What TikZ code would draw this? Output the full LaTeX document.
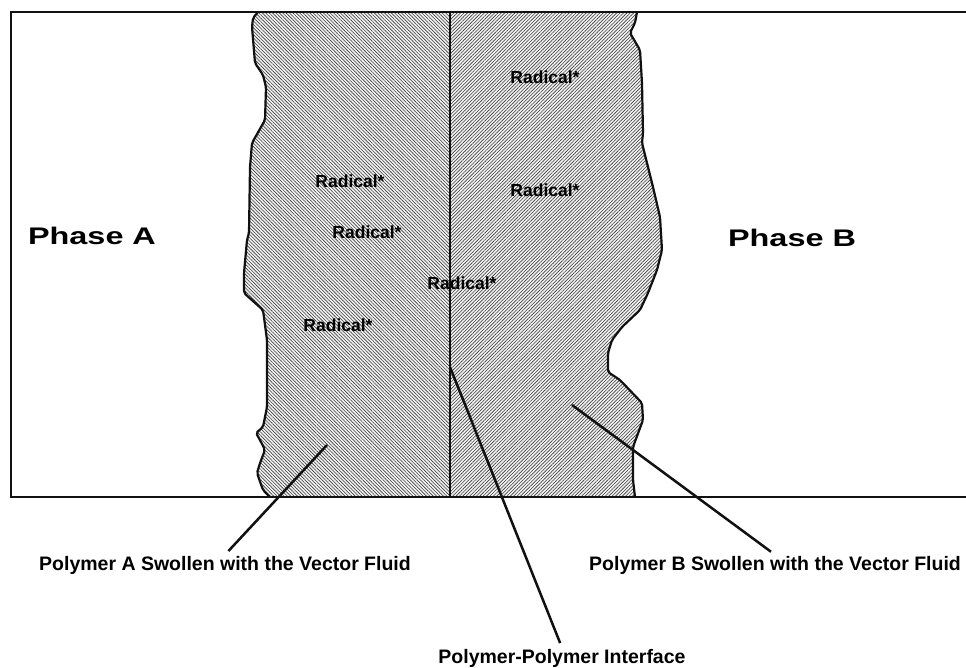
\documentclass[tikz,border=0pt]{standalone}
\usepackage{fontspec}
\setmainfont{Liberation Sans}
\usepackage{tikz}
\usetikzlibrary{patterns.meta}
\definecolor{schwarz}{HTML}{111111}
\definecolor{schraff}{HTML}{3C3C3C}
\definecolor{grund}{HTML}{F2F2F2}
\tikzset{
  rahmen/.style={schwarz,line width=2.2pt},
  grenze/.style={schwarz,line width=2.2pt,rounded corners=2pt},
  schichtA/.style={preaction={fill=grund},pattern={Lines[angle=-45,distance=2.4pt,line width=0.6pt]},pattern color=schraff},
  schichtB/.style={preaction={fill=grund},pattern={Lines[angle=45,distance=2.4pt,line width=0.6pt]},pattern color=schraff},
  trenn/.style={schwarz,line width=1.6pt},
  zeiger/.style={schwarz,line width=2.5pt,shorten >=5pt},
  phase/.style={font=\fontsize{24}{26}\selectfont\bfseries,inner sep=0pt},
  rad/.style={font=\fontsize{17.5}{20}\selectfont\bfseries,inner sep=0pt},
  beschr/.style={font=\fontsize{19.5}{22}\selectfont\bfseries,inner sep=1pt},
}

\begin{document}
\begin{tikzpicture}[x=1pt,y=-1pt]
  \useasboundingbox (0,0) rectangle (966,667);
  % Polymer A
  \path[schichtA] (258,12)--(450,12)--(450,497)--(270,497)
    --(263,490)--(257,473)--(260,463)--(265,450)--(260,440)--(256,433)--(263,427)
    --(267,407)--(267,340)--(263,310)--(244,293)--(244,273)--(247,240)--(249,233)
    --(250,167)--(252,143)--(265,120)--(266,87)--(263,75)--(255,63)--(252,27)--(253,18)--cycle;
  % Polymer B
  \path[schichtB] (450,12)--(637,12)--(635,23)--(630,33)--(640,50)--(642,83)--(643,133)
    --(642,143)--(653,187)--(660,217)--(662,250)--(657,270)--(648,293)--(640,310)
    --(622,327)--(612,340)--(608,353)--(608,372)--(620,380)--(642,403)--(643,420)
    --(633,447)--(633,480)--(635,497)--(450,497)--cycle;
  % Raender
  \draw[grenze] (258,12)--(253,18)--(252,27)--(255,63)--(263,75)--(266,87)--(265,120)
    --(252,143)--(250,167)--(249,233)--(247,240)--(244,273)--(244,293)--(263,310)
    --(267,340)--(267,407)--(263,427)--(256,433)--(260,440)--(265,450)--(260,463)
    --(257,473)--(263,490)--(270,497);
  \draw[grenze] (637,12)--(635,23)--(630,33)--(640,50)--(642,83)--(643,133)--(642,143)
    --(653,187)--(660,217)--(662,250)--(657,270)--(648,293)--(640,310)--(622,327)
    --(612,340)--(608,353)--(608,372)--(620,380)--(642,403)--(643,420)--(633,447)
    --(633,480)--(635,497);
  \coordinate (ifOben) at (450,12);
  \coordinate (ifUnten) at (450,497);
  \draw[trenn] (ifOben)--(ifUnten);
  \draw[rahmen] (966,12) -| (11,497) -- (966,497);

  \node[phase] (phaseA) at (92,236) {\scalebox{1.35}[1]{Phase A}};
  \node[phase] (phaseB) at (792,238) {\scalebox{1.35}[1]{Phase B}};

  \node[rad] (rad1) at (350,181) {Radical*};
  \node[rad] (rad2) at (367,232) {Radical*};
  \node[rad] (rad3) at (338,325) {Radical*};
  \node[rad] (rad4) at (462,283) {Radical*};
  \node[rad] (rad5) at (545,77) {Radical*};
  \node[rad] (rad6) at (545,190) {Radical*};

  \node[beschr] (labA) at (225,565) {Polymer A Swollen with the Vector Fluid};
  \node[beschr] (labB) at (775,565) {Polymer B Swollen with the Vector Fluid};
  \node[beschr] (labIF) at (562,658) {Polymer-Polymer Interface};

  \coordinate (pA) at (327,445);
  \coordinate (pIF) at (450,367);
  \coordinate (pB) at (572,405);
  \draw[zeiger] (pA) -- (labA.north);
  \draw[zeiger] (pIF) -- (labIF.north);
  \draw[zeiger] (pB) -- (labB.north);
\end{tikzpicture}
\end{document}
